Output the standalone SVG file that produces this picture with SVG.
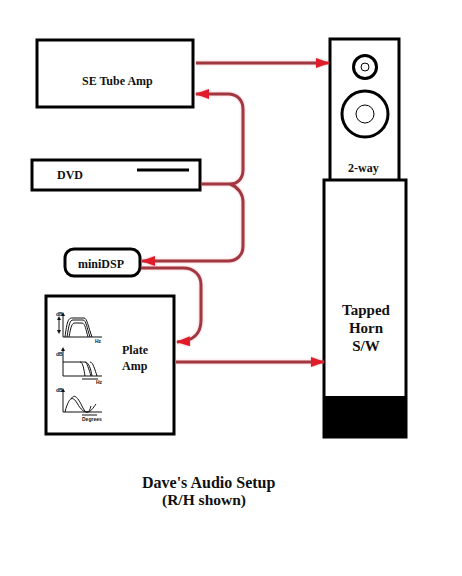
<svg xmlns="http://www.w3.org/2000/svg" width="462" height="576" viewBox="0 0 462 576">
<style>
.b{fill:#fff;stroke:#000;stroke-width:3}
.t{font-family:"Liberation Serif",serif;font-weight:bold;fill:#111}
.w{fill:none;stroke:#a03842;stroke-width:3}
.h{fill:#e01f2b;stroke:none}
.g{fill:none;stroke:#111;stroke-width:1}
.a{fill:#111;stroke:none}
.s{font-family:"Liberation Sans",sans-serif;font-weight:bold;font-size:5px;fill:#111}
</style>
<defs>
<marker id="ah" viewBox="0 0 14 10" refX="13" refY="5" markerWidth="14" markerHeight="10" markerUnits="userSpaceOnUse" orient="auto"><path d="M14 5L0 0V10Z" class="h"/></marker>
<filter id="glow" x="-10%" y="-10%" width="120%" height="120%"><feDropShadow dx="0" dy="0" stdDeviation="1" flood-color="#ff5060" flood-opacity="0.45"/></filter>
</defs>
<rect width="462" height="576" fill="#fff"/>
<g id="tube-amp"><rect class="b" x="37" y="40" width="156" height="67"/><text class="t" x="82" y="85" font-size="12">SE Tube Amp</text></g>
<g id="dvd"><rect class="b" x="32" y="160" width="168" height="30"/><line x1="137" y1="170" x2="189" y2="170" stroke="#000" stroke-width="3"/><text class="t" x="57" y="179" font-size="12">DVD</text></g>
<g id="minidsp"><rect class="b" x="65" y="249" width="75" height="27" rx="9"/><text class="t" x="78" y="268" font-size="12">miniDSP</text></g>
<g id="plate-amp"><rect class="b" x="46" y="296" width="128" height="138"/>
<text class="t" x="122" y="354" font-size="12">Plate</text><text class="t" x="122" y="370" font-size="12">Amp</text>
<path class="g" d="M63 314V337H102M65 337C67 322 68 318 72 318H84C87 318 88 326 92 337M67 337C69 324 70 320 73 320H83C86 320 87 328 90 337M69 337C71 326 72 323 75 323H82C85 323 86 330 88 337"/>
<path class="g" d="M59 318V332"/><path class="a" d="M63 312l-2 4h4zM59 316l-2 4h4zM59 334l-2-4h4z"/>
<text class="s" x="56" y="316">dB</text><text class="s" x="95" y="343">Hz</text>
<path class="g" d="M63 349V376H102M63 362H85C89 362 91 370 92 376M80 362C83 362 84 370 85 376M85 362C87 362 89 370 91 376M90 362C93 362 95 370 97 376M82 379H98"/>
<path class="a" d="M63 347l-2 4h4z"/>
<text class="s" x="56" y="356">dB</text><text class="s" x="96" y="384">Hz</text>
<path class="g" d="M63 390V412H102M65 412C69 396 73 396 77 403C81 410 84 412 87 412C91 412 93 408 96 404M71 399C75 392 79 400 83 408C86 414 89 414 91 406M82 415H97"/>
<path class="a" d="M63 388l-2 4h4z"/>
<text class="s" x="56" y="392">dB</text><text class="s" x="82" y="421">Degrees</text></g>
<g id="two-way"><rect class="b" x="330" y="39" width="69" height="142"/>
<circle cx="365" cy="67" r="11.500" fill="#fff" stroke="#000" stroke-width="3"/><circle cx="365" cy="67" r="4" fill="#fff" stroke="#000"/>
<circle cx="365" cy="114" r="23" fill="#fff" stroke="#000" stroke-width="3"/><circle cx="365" cy="114" r="9" fill="#fff" stroke="#000"/>
<text class="t" x="348" y="172" font-size="12">2-way</text></g>
<g id="sub"><rect class="b" x="324" y="180" width="82" height="257"/><rect x="324" y="396" width="82" height="42" fill="#000"/>
<text class="t" x="366" y="315" font-size="15" text-anchor="middle">Tapped</text><text class="t" x="366" y="333" font-size="15" text-anchor="middle">Horn</text><text class="t" x="366" y="351" font-size="15" text-anchor="middle">S/W</text></g>
<g id="connectors" filter="url(#glow)">
<path class="w" d="M196 63H329" marker-end="url(#ah)"/>
<path class="w" d="M201 184H230C238 184 243 178 243 170V109C243 100 237 94 228 94H196" marker-end="url(#ah)"/>
<path class="w" d="M230 184C238 187 243 194 243 202V246C243 255 237 261 228 261H142" marker-end="url(#ah)"/>
<path class="w" d="M141 268H183C194 268 201 275 201 285V320C201 332 196 341 177 342" marker-end="url(#ah)"/>
<path class="w" d="M176 362H324" marker-end="url(#ah)"/>
</g>
<g id="caption"><text class="t" x="142" y="488" font-size="16">Dave's Audio Setup</text><text class="t" x="162" y="505" font-size="15.500">(R/H shown)</text></g>
</svg>
